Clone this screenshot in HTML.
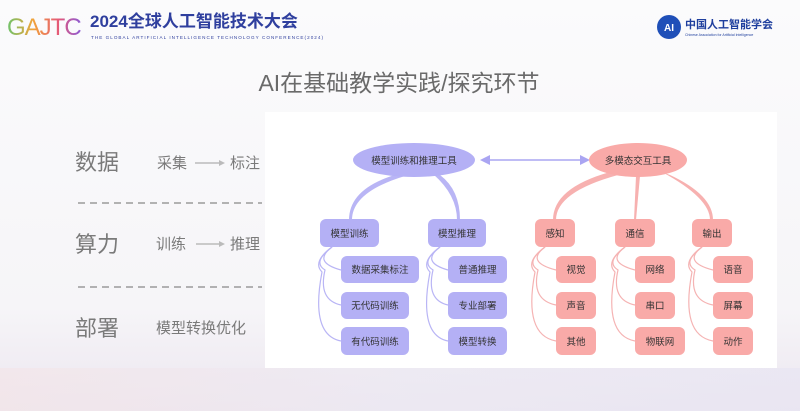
<!DOCTYPE html>
<html><head><meta charset="utf-8"><style>
html,body{margin:0;padding:0;width:800px;height:411px;overflow:hidden;background:#f8f8f9}
svg{display:block}
text{font-family:"Liberation Sans","Noto Sans CJK SC",sans-serif}
</style></head><body>
<svg width="800" height="411" viewBox="0 0 800 411" xmlns="http://www.w3.org/2000/svg">
<defs>
<linearGradient id="bg" x1="0" y1="0" x2="0" y2="1">
<stop offset="0" stop-color="#fbfbfc"/><stop offset="0.75" stop-color="#f6f5f8"/><stop offset="1" stop-color="#ece6ef"/>
</linearGradient>
<linearGradient id="bot" x1="0" y1="0" x2="1" y2="0">
<stop offset="0" stop-color="#f3e5e8"/><stop offset="0.5" stop-color="#ece9f3"/><stop offset="1" stop-color="#e8e5f3"/>
</linearGradient>
<linearGradient id="logo" x1="0" y1="0" x2="1" y2="0">
<stop offset="0" stop-color="#6cc36c"/><stop offset="0.35" stop-color="#f2a33a"/><stop offset="0.7" stop-color="#e4587a"/><stop offset="1" stop-color="#8a5bd6"/>
</linearGradient>
</defs>
<rect width="800" height="411" fill="url(#bg)"/>
<rect x="0" y="368" width="800" height="43" fill="url(#bot)" opacity="0.7"/>
<rect x="265" y="112" width="512" height="256" fill="#ffffff"/>

<!-- header -->
<text x="7" y="35" font-size="24" fill="url(#logo)" letter-spacing="-1">GAJTC</text>
<text x="90" y="27" font-size="17" font-weight="bold" fill="#2f3f9e" font-family="'Liberation Serif','Noto Serif CJK SC',serif">2024全球人工智能技术大会</text>
<text x="91" y="39" font-size="4.6" fill="#2f3f9e" font-family="'Liberation Serif',serif" textLength="232">THE GLOBAL ARTIFICIAL INTELLIGENCE TECHNOLOGY CONFERENCE(2024)</text>
<circle cx="669" cy="27" r="12" fill="#1f4fb8"/>
<text x="669" y="31" font-size="10" font-weight="bold" fill="#fff" text-anchor="middle">AI</text>
<text x="685" y="28" font-size="11" font-weight="bold" fill="#1f3f9e">中国人工智能学会</text>
<text x="685" y="36" font-size="3.5" fill="#1f3f9e">Chinese Association for Artificial Intelligence</text>

<text x="399" y="91" font-size="23" fill="#6a6a6a" text-anchor="middle">AI在基础教学实践/探究环节</text>

<!-- left panel -->
<g fill="#7a7a7a">
<text x="75" y="170" font-size="22">数据</text>
<text x="157" y="168" font-size="15">采集</text>
<text x="230" y="168" font-size="15">标注</text>
<text x="75" y="252" font-size="22">算力</text>
<text x="156" y="249" font-size="15">训练</text>
<text x="230" y="249" font-size="15">推理</text>
<text x="75" y="336" font-size="22">部署</text>
<text x="156" y="333" font-size="15">模型转换优化</text>
</g>
<g stroke="#bbb" stroke-width="1.5">
<line x1="195" y1="163" x2="220" y2="163"/><line x1="196" y1="244" x2="220" y2="244"/>
</g>
<polygon points="219,160 225,163 219,166" fill="#bbb"/>
<polygon points="219,241 225,244 219,247" fill="#bbb"/>
<g stroke="#888" stroke-width="1.3" stroke-dasharray="7,5">
<line x1="78" y1="203" x2="262" y2="203"/><line x1="78" y1="287" x2="262" y2="287"/>
</g>

<!-- double arrow -->
<line x1="490" y1="160" x2="580" y2="160" stroke="#aaa5f2" stroke-width="1.5"/>
<polygon points="480,160 490,155 490,165" fill="#aaa5f2"/>
<polygon points="590,160 580,155 580,165" fill="#aaa5f2"/>

<!-- purple tree -->
<g fill="#b9b5f5">
<path d="M398,174 L405,176 Q352,192 352,220 L349,220 Q349,188 398,174Z"/>
<path d="M433,174 L440,175 Q460,190 460,220 L457,220 Q457,195 433,174Z"/>
</g>
<g fill="none" stroke="#b9b5f5" stroke-width="1.2">
<path d="M332,247 Q312,262 341,270"/><path d="M332,247 Q312,262 325,270 Q318,300 341,305"/><path d="M332,247 Q312,262 322,272 Q310,335 341,341"/>
<path d="M440,247 Q420,262 448,270"/><path d="M440,247 Q420,262 433,270 Q426,300 448,305"/><path d="M440,247 Q420,262 430,272 Q418,335 448,341"/>
</g>
<ellipse cx="414" cy="160" rx="61" ry="17" fill="#b4b0f5"/>
<g fill="#b4b0f5">
<rect x="320" y="219" width="59" height="28" rx="6"/><rect x="428" y="219" width="58" height="28" rx="6"/>
<rect x="341" y="256" width="78" height="27" rx="6"/><rect x="341" y="292" width="68" height="27" rx="6"/><rect x="341" y="327" width="68" height="28" rx="6"/>
<rect x="448" y="256" width="59" height="27" rx="6"/><rect x="448" y="292" width="59" height="27" rx="6"/><rect x="448" y="327" width="59" height="28" rx="6"/>
</g>
<!-- pink tree -->
<g fill="#f7b1b0">
<path d="M610,172 L618,175 Q556,192 556,220 L553,220 Q553,188 610,172Z"/>
<path d="M636,176 L640,176 L636,220 L634,220Z"/>
<path d="M662,172 L670,175 Q713,195 713,220 L710,220 Q710,198 662,172Z"/>
</g>
<g fill="none" stroke="#f5b3b3" stroke-width="1.2">
<path d="M545,247 Q525,262 556,270"/><path d="M545,247 Q525,262 538,270 Q531,300 556,305"/><path d="M545,247 Q525,262 535,272 Q523,335 556,341"/>
<path d="M625,247 Q605,262 635,270"/><path d="M625,247 Q605,262 618,270 Q611,300 635,305"/><path d="M625,247 Q605,262 615,272 Q603,335 635,341"/>
<path d="M702,247 Q682,262 713,270"/><path d="M702,247 Q682,262 695,270 Q688,300 713,305"/><path d="M702,247 Q682,262 692,272 Q680,335 713,341"/>
</g>
<ellipse cx="638" cy="160" rx="49" ry="17" fill="#f9aaa8"/>
<g fill="#f9aaa8">
<rect x="535" y="219" width="40" height="28" rx="6"/><rect x="615" y="219" width="40" height="28" rx="6"/><rect x="692" y="219" width="40" height="28" rx="6"/>
<rect x="556" y="256" width="40" height="27" rx="6"/><rect x="556" y="292" width="40" height="27" rx="6"/><rect x="556" y="327" width="40" height="28" rx="6"/>
<rect x="635" y="256" width="40" height="27" rx="6"/><rect x="635" y="292" width="40" height="27" rx="6"/><rect x="635" y="327" width="50" height="28" rx="6"/>
<rect x="713" y="256" width="40" height="27" rx="6"/><rect x="713" y="292" width="40" height="27" rx="6"/><rect x="713" y="327" width="40" height="28" rx="6"/>
</g>
<g font-size="9.5" fill="#333" text-anchor="middle">
<text x="414" y="164">模型训练和推理工具</text>
<text x="349.5" y="237">模型训练</text><text x="457" y="237">模型推理</text>
<text x="380" y="273">数据采集标注</text><text x="375" y="309">无代码训练</text><text x="375" y="345">有代码训练</text>
<text x="477.5" y="273">普通推理</text><text x="477.5" y="309">专业部署</text><text x="477.5" y="345">模型转换</text>
<text x="638" y="164">多模态交互工具</text>
<text x="555" y="237">感知</text><text x="635" y="237">通信</text><text x="712" y="237">输出</text>
<text x="576" y="273">视觉</text><text x="576" y="309">声音</text><text x="576" y="345">其他</text>
<text x="655" y="273">网络</text><text x="655" y="309">串口</text><text x="660" y="345">物联网</text>
<text x="733" y="273">语音</text><text x="733" y="309">屏幕</text><text x="733" y="345">动作</text>
</g>
</svg>
</body></html>
